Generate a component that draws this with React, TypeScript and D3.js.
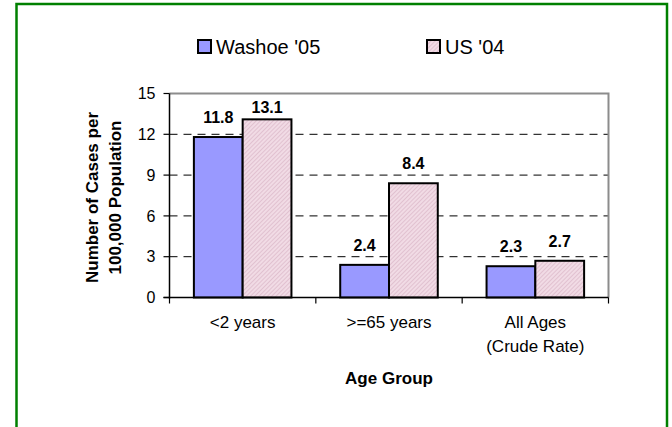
import React, { useEffect, useRef } from 'react'
import * as d3 from 'd3'

const categories = ['<2 years', '>=65 years', 'All Ages\n(Crude Rate)']
const seriesNames = ["Washoe '05", "US '04"]
const washoe = [11.8, 2.4, 2.3]
const us = [13.1, 8.4, 2.7]
const yTicks = [0, 3, 6, 9, 12, 15]

const FONT = '"Liberation Sans", Arial, sans-serif'

export default function App() {
  const svgRef = useRef<SVGSVGElement>(null)

  useEffect(() => {
    const svg = d3.select(svgRef.current)
    svg.selectAll('*').remove()

    const left = 169.5, right = 608.5, top = 93.5, bottom = 297.5

    const x = d3.scaleBand().domain(categories).range([left, right]).paddingInner(1 / 3).paddingOuter(1 / 6)
    const xs = d3.scaleBand().domain(seriesNames).range([0, x.bandwidth()])
    const y = d3.scaleLinear().domain([0, 15]).range([bottom, top])

    // hatch for the US bars
    const defs = svg.append('defs')
    const pat = defs.append('pattern')
      .attr('id', 'pinkHatch')
      .attr('width', 3).attr('height', 3)
      .attr('patternUnits', 'userSpaceOnUse')
      .attr('patternTransform', 'rotate(45)')
    pat.append('rect').attr('width', 3).attr('height', 3).attr('fill', '#f1dbe5')
    pat.append('line').attr('x1', 0).attr('y1', 0).attr('x2', 0).attr('y2', 3)
      .attr('stroke', '#d6b0c3').attr('stroke-width', 1.2)

    // green frame
    svg.append('rect')
      .attr('x', 16.5).attr('y', 4).attr('width', 650.5).attr('height', 440)
      .attr('fill', 'none').attr('stroke', '#008000').attr('stroke-width', 2.5)

    // gridlines
    svg.append('g').selectAll('line')
      .data(yTicks.filter(d => d > 0 && d < 15))
      .enter().append('line')
      .attr('x1', left).attr('x2', right)
      .attr('y1', d => y(d)).attr('y2', d => y(d))
      .attr('stroke', '#000').attr('stroke-width', 1).attr('stroke-dasharray', '8,6')

    // plot border top/right
    svg.append('path')
      .attr('d', `M${left},${top}H${right}V${bottom}`)
      .attr('fill', 'none').attr('stroke', '#8c8c8c').attr('stroke-width', 2)

    const data = categories.map((c, i) => ({ cat: c, vals: [washoe[i], us[i]] }))
    const fills = ['#9999ff', 'url(#pinkHatch)']

    const groups = svg.append('g').selectAll('g')
      .data(data)
      .enter().append('g')
      .attr('transform', d => `translate(${x(d.cat)},0)`)

    groups.selectAll('rect')
      .data(d => d.vals.map((v, j) => ({ v, s: seriesNames[j], j })))
      .enter().append('rect')
      .attr('x', d => xs(d.s)!)
      .attr('y', d => y(d.v))
      .attr('width', xs.bandwidth())
      .attr('height', d => y(0) - y(d.v))
      .attr('fill', d => fills[d.j])
      .attr('stroke', '#000').attr('stroke-width', 2)

    groups.selectAll('text')
      .data(d => d.vals.map((v, j) => ({ v, s: seriesNames[j] })))
      .enter().append('text')
      .attr('x', d => xs(d.s)! + xs.bandwidth() / 2)
      .attr('y', d => Math.max(y(d.v) - 14, top + 19))
      .attr('text-anchor', 'middle')
      .attr('font-family', FONT).attr('font-size', 16).attr('font-weight', 'bold')
      .text(d => d.v.toFixed(1))

    // axes
    svg.append('line').attr('x1', left).attr('x2', left).attr('y1', top).attr('y2', bottom + 1)
      .attr('stroke', '#000').attr('stroke-width', 1.5)
    svg.append('line').attr('x1', left - 6).attr('x2', right).attr('y1', bottom).attr('y2', bottom)
      .attr('stroke', '#000').attr('stroke-width', 1.5)

    const yt = svg.append('g').selectAll('g').data(yTicks).enter().append('g')
    yt.append('line').attr('x1', left - 6).attr('x2', left).attr('y1', d => y(d)).attr('y2', d => y(d))
      .attr('stroke', '#000').attr('stroke-width', 1.2)
    yt.append('text')
      .attr('x', left - 14).attr('y', d => y(d)).attr('dy', '0.36em')
      .attr('text-anchor', 'end')
      .attr('font-family', FONT).attr('font-size', 16)
      .text(d => d)

    const boundaries = [left, ...categories.map(c => x(c)! + x.bandwidth() + x.step() * x.paddingInner() / 2)]
    svg.append('g').selectAll('line').data(boundaries).enter().append('line')
      .attr('x1', d => d).attr('x2', d => d).attr('y1', bottom).attr('y2', bottom + 6)
      .attr('stroke', '#000').attr('stroke-width', 1.2)

    const xl = svg.append('g').selectAll('text').data(categories).enter().append('text')
      .attr('x', d => x(d)! + x.bandwidth() / 2)
      .attr('y', 328)
      .attr('text-anchor', 'middle')
      .attr('font-family', FONT).attr('font-size', 17)
    xl.selectAll('tspan').data(d => d.split('\n')).enter().append('tspan')
      .attr('x', function () { return (this.parentNode as SVGTextElement).getAttribute('x') })
      .attr('dy', (d, i) => (i === 0 ? 0 : 24))
      .text(d => d)

    svg.append('text')
      .attr('x', (left + right) / 2).attr('y', 384)
      .attr('text-anchor', 'middle')
      .attr('font-family', FONT).attr('font-size', 17).attr('font-weight', 'bold')
      .text('Age Group')

    const yTitle = svg.append('text')
      .attr('transform', `translate(0,${(top + bottom) / 2 + 2}) rotate(-90)`)
      .attr('text-anchor', 'middle')
      .attr('font-family', FONT).attr('font-size', 17).attr('font-weight', 'bold')
    yTitle.append('tspan').attr('x', 0).attr('y', 98).text('Number of Cases per')
    yTitle.append('tspan').attr('x', 0).attr('y', 121).text('100,000 Population')

    // legend
    const legendX = [198, 427]
    const lg = svg.append('g').selectAll('g').data(seriesNames).enter().append('g')
      .attr('transform', (d, i) => `translate(${legendX[i]},40)`)
    lg.append('rect').attr('width', 13).attr('height', 13)
      .attr('fill', (d, i) => fills[i]).attr('stroke', '#000').attr('stroke-width', 2)
    lg.append('text').attr('x', 18).attr('y', 13.5)
      .attr('font-family', FONT).attr('font-size', 20)
      .text(d => d)
  }, [])

  return (
    <svg ref={svgRef} width={672} height={427} style={{ position: 'absolute', left: 0, top: 0, background: '#fff' }}></svg>
  )
}
